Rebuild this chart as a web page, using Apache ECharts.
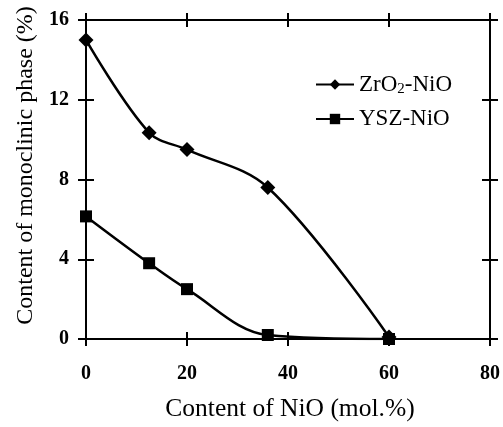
<!DOCTYPE html>
<html>
<head>
<meta charset="utf-8">
<script src="https://cdn.jsdelivr.net/npm/echarts@6/dist/echarts.min.js"></script>
<style>
  html, body { margin: 0; padding: 0; background: #fff; }
  #chart { width: 503px; height: 427px; }
</style>
</head>
<body>
<div id="chart"></div>
<script>
// NiO content (mol.%) and monoclinic phase content (%)
const zrNiO_x = [0, 12.5, 20, 36, 60];
const zrNiO_y = [15.0, 10.35, 9.5, 7.6, 0.1];
const yszNiO_x = [0, 12.5, 20, 36, 60];
const yszNiO_y = [6.15, 3.8, 2.5, 0.2, 0.0];

const xTicks = { min: 0, max: 80, interval: 20 };
const yTicks = { min: 0, max: 16, interval: 4 };

const FONT = '"Liberation Serif", "Times New Roman", serif';
const INK = '#000';

const pairs = (xs, ys) => xs.map((x, i) => [x, ys[i]]);

// One axis copy per tick direction so ticks cross the frame line
function xAxisCopy(position, inside, withLabels) {
  return {
    type: 'value', position, ...xTicks,
    axisLine: { show: true, onZero: false, lineStyle: { color: INK, width: 2 } },
    axisTick: { show: true, inside, length: 7, lineStyle: { color: INK, width: 2 } },
    axisLabel: withLabels
      ? { show: true, margin: 25, color: INK, fontFamily: FONT, fontSize: 20, fontWeight: 'bold' }
      : { show: false },
    splitLine: { show: false },
    name: withLabels ? 'Content of NiO (mol.%)' : '',
    nameLocation: 'middle', nameGap: 57,
    nameTextStyle: { color: INK, fontFamily: FONT, fontSize: 25.5, padding: [0, 0, 0, 4] }
  };
}
function yAxisCopy(position, inside, withLabels) {
  return {
    type: 'value', position, ...yTicks,
    axisLine: { show: true, onZero: false, lineStyle: { color: INK, width: 2 } },
    axisTick: { show: true, inside, length: 8, lineStyle: { color: INK, width: 2 } },
    axisLabel: withLabels
      ? { show: true, margin: 17, color: INK, fontFamily: FONT, fontSize: 20, fontWeight: 'bold' }
      : { show: false },
    splitLine: { show: false },
    name: withLabels ? 'Content of monoclinic phase (%)' : '',
    nameLocation: 'middle', nameGap: 48,
    nameTextStyle: { color: INK, fontFamily: FONT, fontSize: 24, padding: [0, 0, 0, 28] }
  };
}

const chart = echarts.init(document.getElementById('chart'), null, { renderer: 'canvas' });
chart.setOption({
  animation: false,
  backgroundColor: '#fff',
  grid: { left: 86, right: 11, top: 20, bottom: 86, containLabel: false },
  xAxis: [
    xAxisCopy('bottom', true, true),
    xAxisCopy('bottom', false, false),
    xAxisCopy('top', true, false),
    xAxisCopy('top', false, false)
  ],
  yAxis: [
    yAxisCopy('left', true, true),
    yAxisCopy('left', false, false),
    yAxisCopy('right', true, false),
    yAxisCopy('right', false, false)
  ],
  legend: {
    left: 310, top: 68, orient: 'vertical',
    itemWidth: 38, itemHeight: 13, itemGap: 11,
    textStyle: {
      color: INK, fontFamily: FONT, fontSize: 23,
      rich: {
        t: { color: INK, fontFamily: FONT, fontSize: 23 },
        sub: { color: INK, fontFamily: FONT, fontSize: 15, verticalAlign: 'bottom', padding: [9, 0, 0, 0] }
      }
    },
    formatter: name => name === 'ZrO2-NiO' ? '{t|ZrO}{sub|2}{t|-NiO}' : '{t|' + name + '}',
    data: ['ZrO2-NiO', 'YSZ-NiO']
  },
  series: [
    {
      name: 'ZrO2-NiO', type: 'line', xAxisIndex: 0, yAxisIndex: 0,
      data: pairs(zrNiO_x, zrNiO_y),
      smooth: 0.35,
      symbol: 'diamond', symbolSize: 15,
      lineStyle: { color: INK, width: 2.5 },
      itemStyle: { color: INK }
    },
    {
      name: 'YSZ-NiO', type: 'line', xAxisIndex: 0, yAxisIndex: 0,
      data: pairs(yszNiO_x, yszNiO_y),
      smooth: 0.35,
      symbol: 'rect', symbolSize: 12,
      lineStyle: { color: INK, width: 2.5 },
      itemStyle: { color: INK }
    }
  ]
});
</script>
</body>
</html>
